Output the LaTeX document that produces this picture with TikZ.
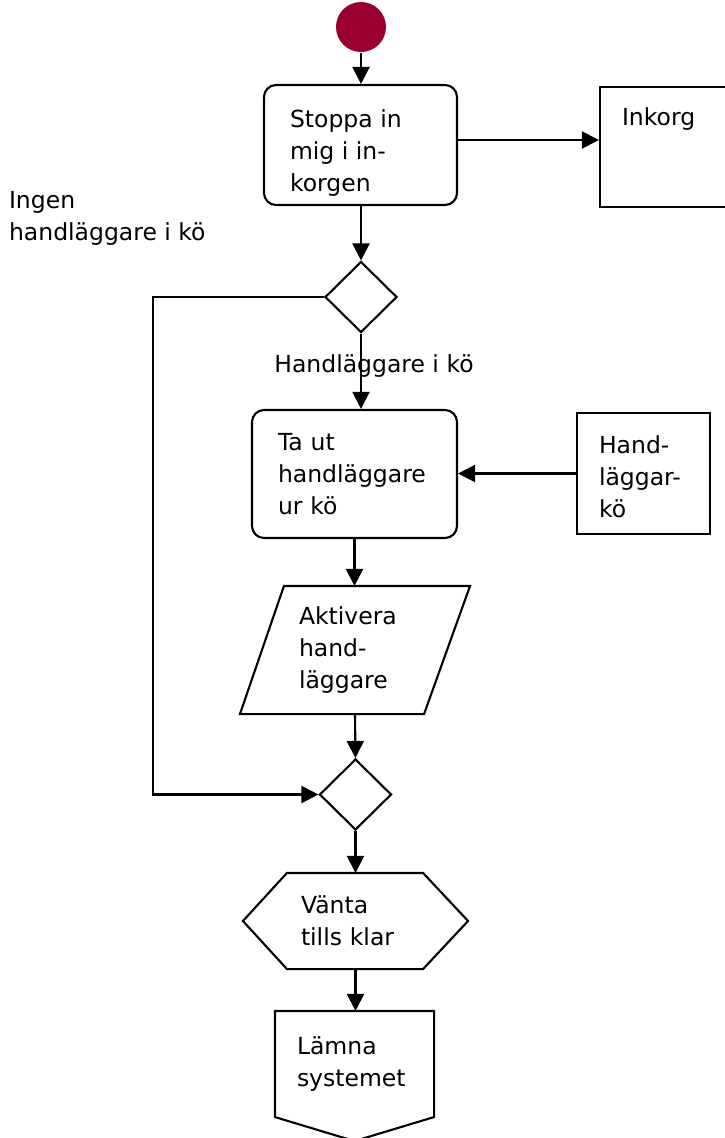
\documentclass[tikz,border=0pt]{standalone}
\usepackage{fontspec}
\setmainfont{DejaVu Sans}
\usepackage{tikz}
\usetikzlibrary{shapes.geometric,arrows.meta}
\definecolor{startred}{RGB}{153,0,48}
\newcommand{\flowfont}{\fontsize{23.5}{32}\selectfont}

\begin{document}
\begin{tikzpicture}[x=1pt,y=-1pt,line width=2.1pt,
  flow/.style={-{Triangle[length=17pt,width=17pt]}},
  proc/.style={draw,rounded corners=12pt,align=left,font=\flowfont,inner ysep=0pt},
  store/.style={draw,align=left,font=\flowfont,inner ysep=0pt},
  choice/.style={draw,diamond,minimum width=72pt,minimum height=71pt,inner sep=0pt},
  bare/.style={align=left,font=\flowfont,inner ysep=0pt},
  lbl/.style={align=left,font=\flowfont,inner sep=0pt}]
\useasboundingbox (0,0) rectangle (725,1138);

\node[circle,fill=startred,minimum size=50pt,inner sep=0pt] (start) at (361,27) {};
\node[proc,anchor=center,minimum width=193pt,minimum height=120pt] (stoppa) at (360.5,145) {};
\node[lbl,anchor=north west] (stoppatxt) at (289,109) {Stoppa in\\mig i in-\\korgen};
\node[store,anchor=center,minimum width=160pt,minimum height=120pt] (inkorg) at (680,147) {};
\node[lbl,anchor=north west] (inkorgtxt) at (621,107) {Inkorg};
\node[choice] (d1) at (361,297) {};
\node[lbl,anchor=north west] (ingen) at (8,190) {Ingen\\handläggare i kö};
\node[lbl,anchor=center] (finns) at (374,366) {Handläggare i kö};
\node[proc,anchor=center,text width=153pt,inner xsep=26pt,minimum height=128pt] (tautur) at (354.5,474) {Ta ut\\handläggare\\ur kö};
\node[store,anchor=center,minimum width=133pt,minimum height=121pt] (hkoe) at (643.5,473.5) {};
\node[lbl,anchor=north west] (hkoetxt) at (598,435) {Hand-\\läggar-\\kö};
\node[bare,anchor=center,text width=112pt,inner xsep=58pt,minimum height=126pt] (akt) at (355,650) {Aktivera\\hand-\\läggare};
\draw ([xshift=44pt]akt.north west) -- (akt.north east) -- ([xshift=-46pt]akt.south east) -- (akt.south west) -- cycle;
\node[choice] (d2) at (355.5,794.5) {};
\node[bare,anchor=center,text width=109pt,inner xsep=57pt,minimum height=94pt] (vanta) at (355.5,921) {Vänta\\tills klar};
\draw ([xshift=44pt]vanta.north west) -- ([xshift=-45pt]vanta.north east) -- (vanta.east) -- ([xshift=-45pt]vanta.south east) -- ([xshift=44pt]vanta.south west) -- (vanta.west) -- cycle;
\node[bare,anchor=center,text width=115pt,inner xsep=21pt,minimum height=104pt] (lamna) at (354.5,1064) {Lämna\\systemet};
\draw (lamna.north west) -- (lamna.north east) -- (lamna.south east) -- ([yshift=-24pt]lamna.south) -- (lamna.south west) -- cycle;
\coordinate (loop) at (153,297);

\draw[flow] (start.south) -- (start.south |- stoppa.north);
\draw[flow] ([yshift=5pt]stoppa.east) -- ([yshift=5pt]stoppa.east -| inkorg.west);
\draw[flow] (d1.north |- stoppa.south) -- (d1.north);
\draw[flow] (d1.west) -| (loop) |- (d2.west);
\draw[flow] (d1.south) -- (d1.south |- tautur.north);
\draw[flow] (hkoe.west) -- (hkoe.west -| tautur.east);
\draw[flow] (tautur.south) -- (tautur.south |- akt.north);
\draw[flow] (akt.south) -- (d2.north);
\draw[flow] (d2.south) -- (d2.south |- vanta.north);
\draw[flow] (vanta.south) -- (vanta.south |- lamna.north);
\end{tikzpicture}
\end{document}
